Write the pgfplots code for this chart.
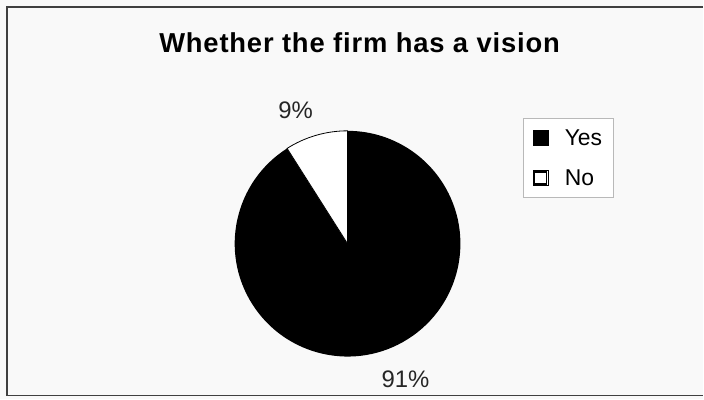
\documentclass[border=0pt]{standalone}
\usepackage{fontspec}
\setmainfont{Liberation Sans}
\usepackage{pgfplots}
\usepackage{pgfplotstable}
\pgfplotsset{compat=1.18}
\pgfplotstableread{
label value
Yes 91
No 9
}\piedata
\pgfplotsset{
  yesleg/.style={legend image code/.code={\path (0bp,-7.5bp) rectangle (15bp,7.5bp);\fill[black] (0bp,-7.5bp) rectangle (15bp,7.5bp);}},
  noleg/.style={legend image code/.code={\path (0bp,-7.5bp) rectangle (15bp,7.5bp);\draw[black,line width=1.3bp,fill=white] (1.5bp,-6bp) rectangle (13.5bp,6bp);}},
}
\begin{document}
\begin{tikzpicture}
\pgfplotstablegetelem{0}{value}\of\piedata \let\yesval\pgfplotsretval
\pgfplotstablegetelem{1}{value}\of\piedata \let\noval\pgfplotsretval
\pgfmathsetmacro\angA{90+3.6*\noval}
\begin{axis}[
  width=704bp, height=400bp, scale only axis,
  xmin=0, xmax=704, ymin=0, ymax=400,
  hide axis, clip=false,
  legend style={at={(axis cs:524,282)}, anchor=north west, draw=gray!55, line width=1bp, fill=white,
    font=\fontsize{23}{26}\selectfont, row sep=19bp, inner xsep=9bp, inner ysep=9bp,
    /tikz/every odd column/.append style={column sep=14bp}},
  legend cell align=left,
]
\fill[gray!5] (axis cs:0,0) rectangle (axis cs:704,400);
\draw[line width=1.8bp, black!75] (axis cs:704,393) -- (axis cs:7,393) -- (axis cs:7,4) -- (axis cs:704,4);
\addlegendimage{yesleg}
\addlegendentry{Yes}
\addlegendimage{noleg}
\addlegendentry{No}
\fill[black] (axis cs:348,156) -- ++(\angA:113bp) arc[start angle=\angA, end angle=450, radius=113bp] -- cycle;
\filldraw[fill=white, draw=black, line width=0.8bp] (axis cs:348,156) -- ++(90:113bp) arc[start angle=90, end angle=\angA, radius=113bp] -- cycle;
\node[font=\fontsize{27.5}{32}\selectfont\bfseries\addfontfeatures{LetterSpace=3}] at (axis cs:360,357) {Whether the firm has a vision};
\node[font=\fontsize{24}{28}\selectfont, text=black!85] at (axis cs:296,290) {\noval\%};
\node[font=\fontsize{24}{28}\selectfont, text=black!85] at (axis cs:406,20) {\yesval\%};
\end{axis}
\end{tikzpicture}
\end{document}
